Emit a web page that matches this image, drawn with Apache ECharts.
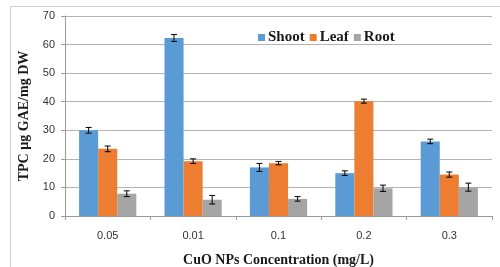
<!DOCTYPE html>
<html>
<head>
<meta charset="utf-8">
<script src="https://cdn.jsdelivr.net/npm/echarts@6/dist/echarts.min.js"></script>
<style>
  html, body { margin: 0; padding: 0; background: #fff; }
  #chart { width: 500px; height: 267px; }
</style>
</head>
<body>
<div id="chart"></div>
<script>
// 数据
var categories = ['0.05', '0.01', '0.1', '0.2', '0.3'];
var shoot = [30.0, 62.3, 17.0, 15.0, 26.1];
var leaf = [23.5, 19.2, 18.5, 40.2, 14.5];
var root = [7.8, 5.7, 6.0, 9.7, 10.1];
var shootErr = [1.0, 1.2, 1.4, 0.8, 0.8];
var leafErr = [1.0, 0.8, 0.6, 0.7, 0.9];
var rootErr = [1.0, 1.5, 0.8, 1.1, 1.4];

var colors = ['#5B9BD5', '#ED7D31', '#A5A5A5'];
var catGap = 0.33;

// 误差线 custom series
function errSeries(vals, errs, idx) {
    var data = vals.map(function (v, i) { return [i, v - errs[i], v + errs[i]]; });
    return {
        type: 'custom',
        silent: true,
        z: 10,
        data: data,
        renderItem: function (params, api) {
            var band = api.size([1, 0])[0];
            var bw = band * (1 - catGap) / 3;
            var off = (idx - 1) * bw;
            var lo = api.coord([api.value(0), api.value(1)]);
            var hi = api.coord([api.value(0), api.value(2)]);
            var x = lo[0] + off;
            var cap = 3;
            var st = { stroke: '#000', lineWidth: 1 };
            return {
                type: 'group',
                children: [
                    { type: 'line', shape: { x1: x, y1: lo[1], x2: x, y2: hi[1] }, style: st },
                    { type: 'line', shape: { x1: x - cap, y1: lo[1], x2: x + cap, y2: lo[1] }, style: st },
                    { type: 'line', shape: { x1: x - cap, y1: hi[1], x2: x + cap, y2: hi[1] }, style: st }
                ]
            };
        }
    };
}

var myChart = echarts.init(document.getElementById('chart'), null, { renderer: 'canvas' });

myChart.setOption({
    animation: false,
    color: colors,
    graphic: [{
        type: 'rect',
        shape: { x: 10.5, y: 6.5, width: 520, height: 300 },
        style: { fill: 'none', stroke: '#cfcfcf', lineWidth: 1 },
        silent: true
    }],
    legend: {
        left: 253,
        top: 25,
        itemWidth: 7,
        itemHeight: 7,
        itemGap: 5,
        icon: 'rect',
        data: ['Shoot', 'Leaf', 'Root'],
        textStyle: { fontFamily: 'Liberation Serif', fontWeight: 'bold', fontSize: 15, color: '#1a1a1a', padding: [0, 0, 0, -2] }
    },
    grid: { left: 65, right: 8, top: 16, bottom: 51, outerBoundsMode: 'none' },
    xAxis: {
        type: 'category',
        data: categories,
        name: 'CuO NPs Concentration (mg/L)',
        nameLocation: 'middle',
        nameGap: 37,
        nameTextStyle: { fontFamily: 'Liberation Serif', fontWeight: 'bold', fontSize: 14, color: '#1a1a1a' },
        axisLine: { lineStyle: { color: '#9a9a9a' } },
        axisTick: { show: true, length: 4, lineStyle: { color: '#9a9a9a' } },
        axisLabel: { margin: 14, fontFamily: 'Liberation Sans', fontSize: 11, color: '#333' }
    },
    yAxis: {
        type: 'value',
        min: 0,
        max: 70,
        interval: 10,
        name: 'TPC µg GAE/mg DW',
        nameLocation: 'middle',
        nameGap: 28,
        nameTextStyle: { fontFamily: 'Liberation Serif', fontWeight: 'bold', fontSize: 14, color: '#1a1a1a' },
        axisLine: { show: true, lineStyle: { color: '#9a9a9a' } },
        axisTick: { show: true, length: 4, lineStyle: { color: '#9a9a9a' } },
        axisLabel: { margin: 10, fontFamily: 'Liberation Sans', fontSize: 11, color: '#333' },
        splitLine: { lineStyle: { color: '#b4b4b4' } }
    },
    series: [
        { name: 'Shoot', type: 'bar', data: shoot, barGap: 0, barCategoryGap: '33%' },
        { name: 'Leaf', type: 'bar', data: leaf, barGap: 0, barCategoryGap: '33%' },
        { name: 'Root', type: 'bar', data: root, barGap: 0, barCategoryGap: '33%' },
        errSeries(shoot, shootErr, 0),
        errSeries(leaf, leafErr, 1),
        errSeries(root, rootErr, 2)
    ]
});
</script>
</body>
</html>
